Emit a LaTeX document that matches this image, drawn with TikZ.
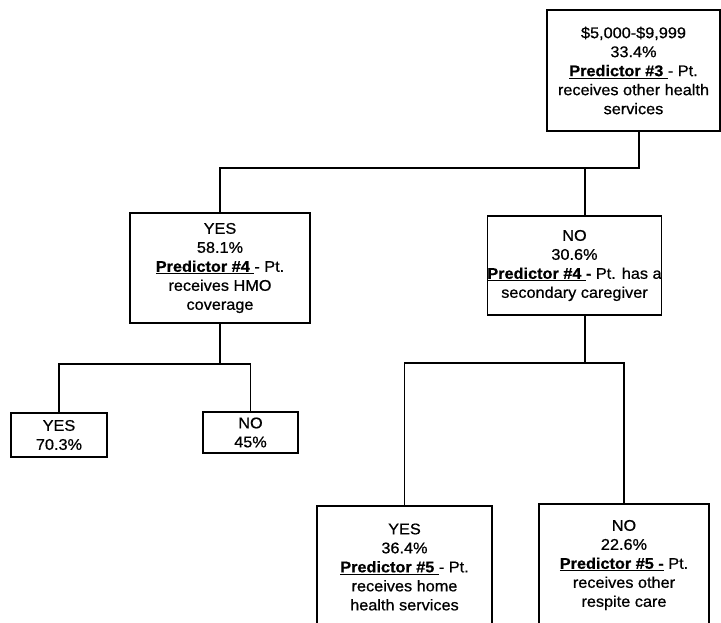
\documentclass[tikz,border=0pt]{standalone}
\usepackage{fontspec}
\setmainfont{Liberation Sans}[FakeStretch=1.05, FakeBold=0.7]
\usepackage{tikz}
\usetikzlibrary{calc}

\tikzset{
  box/.style={draw, line width=1.4pt, align=center, inner sep=0pt,
    font={\fontsize{15.5}{19}\selectfont}},
  link/.style={line width=1.4pt}
}
\newcommand{\pred}[1]{\underline{\textbf{Predictor \##1\ }}}

\begin{document}
\begin{tikzpicture}[x=1pt,y=1pt,yscale=-1,xscale=1]
        \clip (0,0) rectangle (721,623);
        \fill[white] (0,0) rectangle (721,623);

        %Shape: Rectangle [root]
        \node[box, minimum width=173, minimum height=121] (root) at (633.5,70.5)
          {\$5,000-\$9,999\\33.4\%\\\pred{3}- Pt.\\receives other health\\services};
        %Shape: Rectangle [yes]
        \node[box, minimum width=180, minimum height=110] (yes) at (220,268)
          {YES\\58.1\%\\\pred{4}- Pt.\\receives HMO\\coverage};
        %Shape: Rectangle [no]
        \node[box, minimum width=173, minimum height=99] (no) at (574.5,265.5)
          {NO\\30.6\%\\\pred{4}\textbf{-} Pt. has a\\secondary caregiver};
        %Shape: Rectangle [yes-yes]
        \node[box, minimum width=96, minimum height=44] (yesyes) at (59,435)
          {YES\\70.3\%};
        %Shape: Rectangle [yes-no]
        \node[box, minimum width=95, minimum height=41] (yesno) at (250.5,432.5)
          {NO\\45\%};
        %Shape: Rectangle [no-yes]
        \node[box, minimum width=175, minimum height=122] (noyes) at (404.5,567)
          {YES\\36.4\%\\\pred{5}- Pt.\\receives home\\health services};
        %Shape: Rectangle [no-no]
        \node[box, minimum width=170, minimum height=122] (nono) at (624,565)
          {NO\\22.6\%\\\underline{\textbf{Predictor \#5 -}}\ Pt.\\receives other\\respite care};

        % junctions
        \coordinate (rj) at (639,168);
        \coordinate (rk) at (585,168);
        \coordinate (yj) at (220,364);
        \coordinate (nj) at (585,363);

        %Straight Lines [root]
        \draw[link] (root.south -| rj) -- (rj) -| (yes.north);
        \draw[link] (rk) -- (no.north -| rk);
        %Straight Lines [yes]
        \draw[link] (yes.south) -- (yj);
        \draw[link] (yesyes.north) |- (yj) -| (yesno.north);
        %Straight Lines [no]
        \draw[link] (no.south -| nj) -- (nj);
        \draw[link] (noyes.north) |- (nj) -| (nono.north);

\end{tikzpicture}
\end{document}
